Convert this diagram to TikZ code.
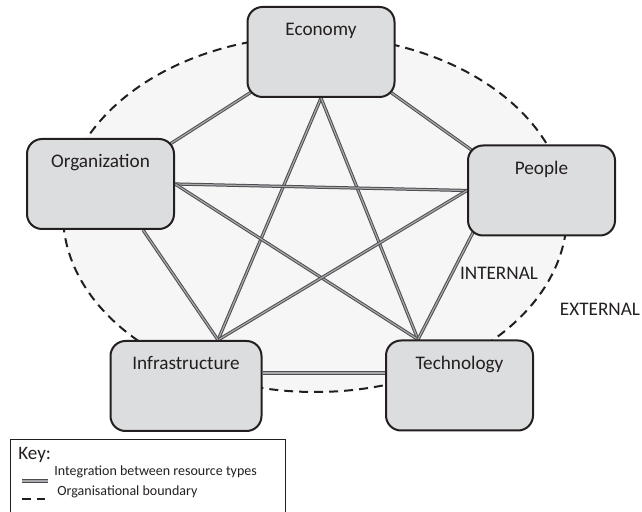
\documentclass[tikz,border=0pt]{standalone}
\usepackage{fontspec}
\setmainfont{Carlito}
\usetikzlibrary{calc}
\definecolor{BoxFill}{HTML}{DCDDDE}
\definecolor{Ink}{HTML}{231F20}
\definecolor{Inside}{HTML}{F6F6F6}
\definecolor{LinkGray}{HTML}{4D4D4F}
\definecolor{LinkCore}{HTML}{A7A9AC}
\pgfdeclarelayer{zone}
\pgfdeclarelayer{links}
\pgfsetlayers{zone,links,main}
\tikzset{
  resource/.style={draw=Ink, fill=BoxFill, line width=1pt, rounded corners=7.5pt,
    minimum width=73.5pt, inner sep=0pt, text height=14.5pt, text depth=30.5pt,
    font=\fontsize{9.6}{11}\selectfont, text=Ink},
  integration/.style={draw=LinkGray, line width=0.5pt, double=LinkCore, double distance=0.6pt},
  boundary/.style={draw=Ink, line width=1pt, dash pattern=on 4.5pt off 3pt},
  zonelabel/.style={font=\fontsize{9.6}{11}\selectfont, text=Ink, inner sep=0pt},
  keytext/.style={font=\fontsize{7}{8}\selectfont, text=Ink, anchor=west, inner sep=0pt}
}

\begin{document}
\begin{tikzpicture}[x=0.5pt, y=-0.5pt]
    \useasboundingbox (0,0) rectangle (642,512);

    % Resource types
    \node[resource] (eco) at (321,52) {Economy};
    \node[resource] (org) at (100.5,184) {Organization};
    \node[resource] (ppl) at (541.5,190.5) {People};
    \node[resource, minimum width=75.5pt] (inf) at (186,386) {Infrastructure};
    \node[resource] (tec) at (459.5,385.5) {Technology};

    % Organisational boundary
    \begin{pgfonlayer}{zone}
        \draw[boundary, fill=Inside] (315,214) ellipse [x radius=126pt, y radius=89pt];
    \end{pgfonlayer}

    % Attachment points
    \coordinate (eco-sw) at ($(eco.south west)+(8,-8)$);
    \coordinate (eco-se) at ($(eco.south east)+(-8,-8)$);
    \coordinate (org-ne) at ($(org.north east)+(-8,8)$);
    \coordinate (ppl-nw) at ($(ppl.north west)+(8,8)$);
    \coordinate (org-bot) at ($(org.south)+(42.5,0)$);
    \coordinate (ppl-bot) at ($(ppl.south west)+(6,-4)$);
    \coordinate (inf-top) at ($(inf.north)+(32,0)$);
    \coordinate (tec-top) at ($(tec.north)+(-41.5,0)$);
    \coordinate (inf-side) at ($(inf.east)+(0,-13)$);
    \coordinate (tec-side) at ($(tec.west)+(0,-12.5)$);

    % Integration links
    \begin{pgfonlayer}{links}
        \draw[integration] (eco.south) -- (inf-top);
        \draw[integration] (eco.south) -- (tec-top);
        \draw[integration] (eco-sw) -- (org-ne);
        \draw[integration] (eco-se) -- (ppl-nw);
        \draw[integration] (org.east) -- (ppl.west);
        \draw[integration] (org.east) -- (tec-top);
        \draw[integration] (ppl.west) -- (inf-top);
        \draw[integration] (org-bot) -- (inf-top);
        \draw[integration] (ppl-bot) -- (tec-top);
        \draw[integration] (inf-side) -- (tec-side);
    \end{pgfonlayer}

    % Zone labels
    \node[zonelabel] (internal) at (499,273) {INTERNAL};
    \node[zonelabel] (external) at (600,309) {EXTERNAL};

    % Key
    \draw[draw=Ink, line width=0.5pt] (10,440) rectangle (285,520);
    \node[font=\fontsize{9.5}{11}\selectfont, text=Ink, anchor=west, inner sep=0pt] (keyhead) at (18,455) {Key:};
    \node[keytext] (keyint) at (54,472) {Integration between resource types};
    \node[keytext] (keybnd) at (57,492) {Organisational boundary};
    \draw[integration] (22,481) -- (48,481);
    \draw[boundary] (22,499) -- (45,499);
\end{tikzpicture}
\end{document}
